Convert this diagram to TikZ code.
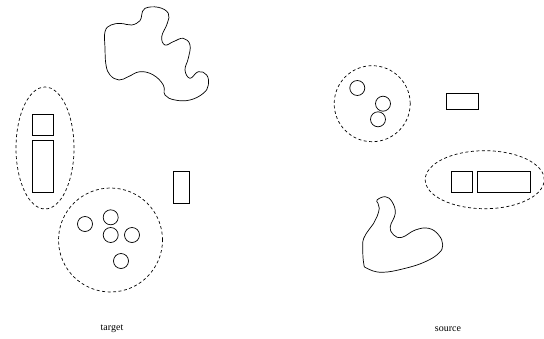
\documentclass[tikz,border=0pt]{standalone}
\usepackage{fontspec}
\setmainfont{Liberation Serif}
\usetikzlibrary{shapes.geometric,positioning}

\begin{document}
\begin{tikzpicture}[x=1pt,y=-1pt,line width=0.7pt,font=\fontsize{10}{12}\selectfont,
  box/.style={draw,rectangle,inner sep=0pt},
  dot/.style={draw,circle,inner sep=0pt,minimum size=15pt},
  group/.style={draw,ellipse,dashed,dash pattern=on 3pt off 2.5pt,inner sep=0pt},
  blob/.style={draw,smooth cycle,tension=0.7}]
\useasboundingbox (0,0) rectangle (544,338);

% target side
\node[group,minimum width=58pt,minimum height=122pt] (tgrp1) at (45,148) {};
\node[box,minimum width=21pt,minimum height=21pt] (tr1) at (42.7,124.7) {};
\node[box,minimum width=21pt,minimum height=52pt] (tr2) at (42.7,166.5) {};
\node[box,minimum width=16pt,minimum height=31.5pt] (tr3) at (181.5,187.5) {};
\node[group,circle,minimum size=104pt] (tgrp2) at (110.5,240) {};
\node[dot] (tc1) at (85,224) {};
\node[dot] (tc2) at (110.7,217.3) {};
\node[dot] (tc3) at (110.7,235) {};
\node[dot] (tc4) at (132,235) {};
\node[dot] (tc5) at (121,261) {};
\draw plot[blob] coordinates {(105,31.7) (111,25) (121,23.5) (131.7,25) (140,20.7)
  (141.7,15) (145,8.3) (158.3,7.3) (168.3,13.3) (167.3,23.3) (161.7,36.7) (165,45)
  (173.3,41.7) (183.3,38.3) (190,45) (188.3,58.3) (185,70) (190,78.3) (198.3,71.7)
  (206.7,75) (208.3,85) (203.3,93.3) (190,100) (175,100) (165,95) (163.3,85)
  (153.3,75) (140,71.7) (128.3,76.7) (119,80) (110,75) (106,65) (105,48)};
\node (tlabel) at (112,329) {target};

% source side
\node[group,circle,minimum size=76pt] (sgrp1) at (372.2,103.7) {};
\node[dot] (sc1) at (357.3,88) {};
\node[dot] (sc2) at (383,103.7) {};
\node[dot] (sc3) at (378,119.3) {};
\node[box,minimum width=32pt,minimum height=16pt] (sr1) at (462,101) {};
\node[group,minimum width=119pt,minimum height=58pt] (sgrp2) at (484.7,179.7) {};
\node[box,minimum width=21.3pt,minimum height=21pt] (sr2) at (462,182.2) {};
\node[box,minimum width=53pt,minimum height=21pt] (sr3) at (503.8,182.2) {};
\draw plot[blob] coordinates {(377,200) (385.3,196.7) (392,201.7) (395.3,213.3)
  (390.3,226.7) (393.7,235) (402,237.3) (415.3,230) (428.7,228.3) (438.7,235)
  (442.7,245) (438.7,253.3) (425.3,261.7) (405.3,268.3) (382,272.3) (367,268.3)
  (363.7,263.3) (362.7,246.7) (363.7,238.3) (368.7,230) (373.7,223.3) (377,216.7)
  (379.3,208.3) (378,203.3)};
\node (slabel) at (448,329) {source};
\end{tikzpicture}
\end{document}
